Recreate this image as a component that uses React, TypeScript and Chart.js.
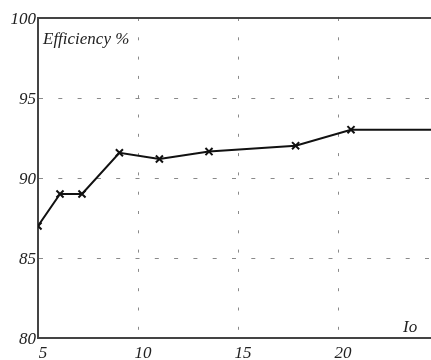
import React, { useEffect, useRef } from "react";
import { Chart, registerables } from "chart.js";

Chart.register(...registerables);

const currentIo = [5, 6.1, 7.2, 9.07, 11.07, 13.55, 17.88, 20.65, 25];
const efficiency = [87, 89, 89, 91.58, 91.19, 91.65, 92.02, 93.02, 93.02];
const yTitle = "Efficiency %";
const xTitle = "Io";

const FONT = '"Liberation Serif", "Times New Roman", serif';
const TEXT = "#222";
const AXIS = "#444";
const GRID = "#8a8a8a";

const annotations = {
  id: "annotations",
  afterDraw(chart: any) {
    const { ctx, chartArea } = chart;
    ctx.save();
    ctx.font = `italic 17px ${FONT}`;
    ctx.fillStyle = TEXT;
    ctx.textBaseline = "alphabetic";
    ctx.textAlign = "left";
    ctx.fillText(yTitle, chartArea.left + 5, chartArea.top + 26);
    ctx.fillText(xTitle, chartArea.left + 365, chartArea.bottom - 6);
    ctx.restore();
  },
};

export default function App() {
  const ref = useRef<HTMLCanvasElement>(null);
  useEffect(() => {
    if (!ref.current) return;
    const chart = new Chart(ref.current, {
      type: "line",
      data: {
        datasets: [
          {
            data: currentIo.map((x, i) => ({ x, y: efficiency[i] })),
            borderColor: "#111",
            borderWidth: 2,
            tension: 0,
            pointStyle: "crossRot",
            pointRadius: 5,
            pointBorderWidth: 2,
            pointBorderColor: "#111",
            pointBackgroundColor: "#111",
          },
        ],
      },
      options: {
        responsive: false,
        animation: false,
        events: [],
        layout: { padding: { top: 18, right: 42, left: 0, bottom: 0 } },
        plugins: { legend: { display: false }, tooltip: { enabled: false } },
        scales: {
          x: {
            type: "linear",
            min: 5,
            max: 25,
            afterFit: (axis: any) => {
              axis.height = 22;
            },
            ticks: {
              stepSize: 5,
              autoSkip: false,
              maxRotation: 0,
              padding: 7,
              labelOffset: 5,
              color: TEXT,
              font: { family: FONT, size: 17, style: "italic", lineHeight: 1 },
            },
            grid: {
              drawTicks: false,
              lineWidth: 1,
              color: (c: any) =>
                c.tick && (c.tick.value === 5 || c.tick.value === 25) ? "rgba(0,0,0,0)" : GRID,
            },
            border: { display: true, color: AXIS, width: 2, dash: [3, 16.3] },
          },
          x2: {
            type: "linear",
            position: "top",
            display: true,
            min: 5,
            max: 25,
            afterFit: (axis: any) => {
              axis.height = 0;
            },
            ticks: { display: false },
            grid: { display: false, drawTicks: false },
            border: { display: true, color: AXIS, width: 2 },
          },
          y: {
            min: 80,
            max: 100,
            afterFit: (axis: any) => {
              axis.width = 38;
            },
            ticks: {
              stepSize: 5,
              padding: 2,
              labelOffset: 2,
              color: TEXT,
              font: { family: FONT, size: 17, style: "italic" },
            },
            grid: {
              drawTicks: false,
              lineWidth: 1,
              color: (c: any) =>
                c.tick && (c.tick.value === 80 || c.tick.value === 100) ? "rgba(0,0,0,0)" : GRID,
            },
            border: { display: true, color: AXIS, width: 2, dash: [4, 15.3] },
          },
        },
      },
      plugins: [annotations],
    });
    return () => chart.destroy();
  }, []);

  return (
    <div
      style={{
        position: "fixed",
        left: 0,
        top: 0,
        width: 431,
        height: 360,
        overflow: "hidden",
        background: "#fff",
      }}
    >
      <canvas ref={ref} width={480} height={360} style={{ display: "block" }} />
    </div>
  );
}
